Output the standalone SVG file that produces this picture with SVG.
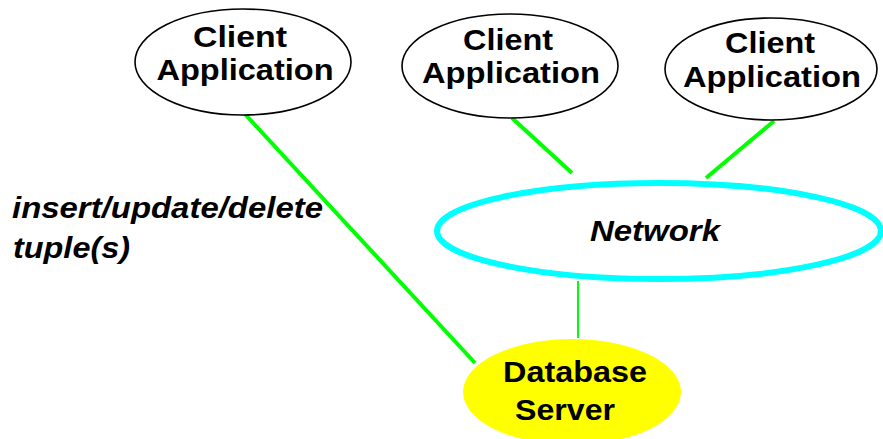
<svg xmlns="http://www.w3.org/2000/svg" width="883" height="439" viewBox="0 0 883 439">
  <style>
    .client { fill: #ffffff; stroke: #000000; stroke-width: 1.6; }
    .net { fill: #ffffff; stroke: #00ffff; stroke-width: 6; }
    .db { fill: #ffff00; stroke: none; }
    .lbl { font-family: "Liberation Sans", Arial, sans-serif; font-weight: bold; font-size: 30px; fill: #000000; }
    .it { font-style: italic; }
    .link { stroke: #00ff00; stroke-width: 4; stroke-linecap: butt; fill: none; }
    .thin { stroke: #00ff00; stroke-width: 2; fill: none; }
  </style>
  <rect width="883" height="439" fill="#ffffff"/>

  <g id="connectors">
    <line class="link" x1="244" y1="113" x2="475" y2="363"/>
    <line class="link" x1="512" y1="118" x2="572" y2="173"/>
    <line class="link" x1="774" y1="121" x2="706" y2="178"/>
    <line class="thin" x1="578" y1="281" x2="578" y2="338"/>
  </g>

  <g id="client1">
    <ellipse class="client" cx="243" cy="62" rx="108" ry="53"/>
    <text class="lbl" x="240" y="47" text-anchor="middle" textLength="94" lengthAdjust="spacingAndGlyphs">Client</text>
    <text class="lbl" x="245" y="80" text-anchor="middle" textLength="177" lengthAdjust="spacingAndGlyphs">Application</text>
  </g>

  <g id="client2">
    <ellipse class="client" cx="510" cy="66" rx="108" ry="52"/>
    <text class="lbl" x="508" y="50" text-anchor="middle" textLength="90" lengthAdjust="spacingAndGlyphs">Client</text>
    <text class="lbl" x="511" y="83" text-anchor="middle" textLength="178" lengthAdjust="spacingAndGlyphs">Application</text>
  </g>

  <g id="client3">
    <ellipse class="client" cx="771" cy="69" rx="106" ry="51"/>
    <text class="lbl" x="770" y="53" text-anchor="middle" textLength="90" lengthAdjust="spacingAndGlyphs">Client</text>
    <text class="lbl" x="772" y="87" text-anchor="middle" textLength="178" lengthAdjust="spacingAndGlyphs">Application</text>
  </g>

  <g id="network">
    <ellipse class="net" cx="659" cy="231" rx="222" ry="48"/>
    <text class="lbl it" x="655" y="241" text-anchor="middle" textLength="130" lengthAdjust="spacingAndGlyphs">Network</text>
  </g>

  <g id="database">
    <ellipse class="db" cx="572" cy="392" rx="109" ry="53"/>
    <text class="lbl" x="575" y="382" text-anchor="middle" textLength="144" lengthAdjust="spacingAndGlyphs">Database</text>
    <text class="lbl" x="565" y="420" text-anchor="middle" textLength="100" lengthAdjust="spacingAndGlyphs">Server</text>
  </g>

  <g id="operation-label">
    <text class="lbl it" x="12" y="218" textLength="311" lengthAdjust="spacingAndGlyphs">insert/update/delete</text>
    <text class="lbl it" x="13" y="258" textLength="117" lengthAdjust="spacingAndGlyphs">tuple(s)</text>
  </g>
</svg>
